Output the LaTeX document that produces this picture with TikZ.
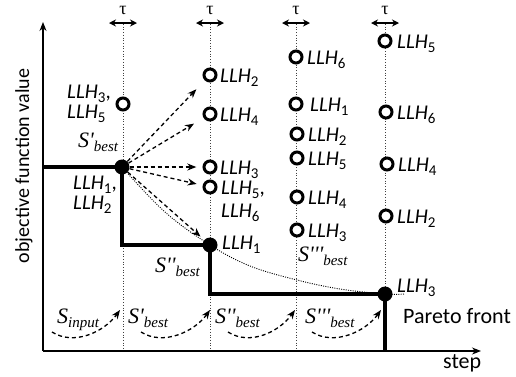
\documentclass[tikz,border=0pt]{standalone}
\usepackage{fontspec}
\setmainfont{Liberation Serif}
\newfontfamily\calfont{Carlito}
\usetikzlibrary{arrows.meta,calc}
\newcommand\sub[1]{\raisebox{-0.22em}{\fontsize{15}{15}\selectfont #1}}
\newcommand\LLH[1]{{\itshape LLH}\sub{#1}}
\newcommand\Sl[2]{{\itshape S#1}\sub{\itshape #2}}
\newcommand\pr{\textquotesingle}
\begin{document}
\begin{tikzpicture}[x=1pt,y=-1pt,
  hollow/.style={circle,minimum size=15pt,inner sep=0pt},
  ring/.style={draw=black,fill=white,line width=3pt},
  bigdot/.style={circle,fill,minimum size=15pt,inner sep=0pt},
  llh/.style={font=\calfont\fontsize{21}{21}\selectfont,inner sep=0pt,anchor=base west},
  slab/.style={font=\rmfamily\fontsize{22}{22}\selectfont,inner sep=0pt,anchor=base west},
  guide/.style={line width=0.7pt,dotted,black!75},
  front/.style={line width=4pt},
  axis/.style={line width=1.2pt,-{Stealth[length=9pt,width=7pt]}},
  dasharrow/.style={dashed,dash pattern=on 4pt off 3pt,line width=1.3pt,-{Stealth[length=9pt,width=7pt]}},
  tauarrow/.style={line width=1.8pt,{Stealth[length=7pt,width=7pt]}-{Stealth[length=7pt,width=7pt]}},
]
\useasboundingbox (0,0) rectangle (516,376);

% guides and tau markers
\foreach \x/\n in {123/1,210/2,296/3,385/4}{
  \coordinate (t\n) at (\x,24);
  \coordinate (b\n) at (\x,351);
  \coordinate (tl\n) at (\x-14,23);
  \coordinate (tr\n) at (\x+14,23);
  \draw[guide] (t\n) -- (b\n);
  \draw[tauarrow] (tl\n) -- (tr\n);
  \node[font=\rmfamily\fontsize{18}{18}\selectfont] (tau\n) at (\x,10) {τ};
}

% axes
\coordinate (O) at (43,351);
\coordinate (ytop) at (43,22);
\coordinate (xend) at (481,351);
\draw[axis] (O) -- (ytop);
\draw[axis] (O) -- (xend);
\node[rotate=90,font=\calfont\fontsize{20}{20}\selectfont] (ylab) at (24,166) {objective function value};
\node[llh,font=\calfont\fontsize{22}{22}\selectfont] (step) at (443,368) {step};

% dotted curve
\draw[line width=0.9pt,dash pattern=on 1pt off 1.3pt] plot[smooth,tension=0.6] coordinates {(122,167) (165,212) (210,245) (250,266) (297,280) (340,289) (385,294) (404,294)};

% Pareto front
\coordinate (p0) at (43,167);
\coordinate (p1) at (122,245);
\coordinate (p2) at (210,294);
\coordinate (p3) at (385,351);
\coordinate (q1) at (122,167);
\coordinate (q2) at (210,245);
\coordinate (q3) at (385,294);
\draw[front] (p0) -- (q1) -- (p1) -- (q2) -- (p2) -- (q3) -- (p3);
\node[bigdot] (s1) at (q1) {};
\node[bigdot] (s2) at (q2) {};
\node[bigdot] (s3) at (q3) {};

% hollow circles (nodes) and their rings
\node[hollow] (c11) at (123,104) {};
\node[hollow] (c21) at (210,75) {};
\node[hollow] (c22) at (210,114) {};
\node[hollow] (c23) at (210,167) {};
\node[hollow] (c24) at (210,187) {};
\node[hollow] (c31) at (296,57) {};
\node[hollow] (c32) at (296,104) {};
\node[hollow] (c33) at (297,134) {};
\node[hollow] (c34) at (297,158) {};
\node[hollow] (c35) at (297,197) {};
\node[hollow] (c36) at (297,230) {};
\node[hollow] (c41) at (385,41) {};
\node[hollow] (c42) at (386,112) {};
\node[hollow] (c43) at (387,164) {};
\node[hollow] (c44) at (386,216) {};
\foreach \c in {c11,c21,c22,c23,c24,c31,c32,c33,c34,c35,c36,c41,c42,c43,c44}{
  \draw[ring] (\c.center) circle[radius=6pt];
}

% labels column 1
\node[llh] (l11a) at (67,98) {\LLH{3},};
\node[llh] (l11b) at (67,118) {\LLH{5}};
\node[llh] (l12a) at (73,189) {\LLH{1},};
\node[llh] (l12b) at (73,209) {\LLH{2}};

% column 2
\node[llh] (l21) at (220,82) {\LLH{2}};
\node[llh] (l22) at (220,121) {\LLH{4}};
\node[llh] (l23) at (220,174) {\LLH{3}};
\node[llh] (l24a) at (221,194) {\LLH{5},};
\node[llh] (l24b) at (221,217) {\LLH{6}};
\node[llh] (l25) at (222,249) {\LLH{1}};

% column 3
\node[llh] (l31) at (307,64) {\LLH{6}};
\node[llh] (l32) at (310,111) {\LLH{1}};
\node[llh] (l33) at (308,141) {\LLH{2}};
\node[llh] (l34) at (308,165) {\LLH{5}};
\node[llh] (l35) at (308,204) {\LLH{4}};
\node[llh] (l36) at (308,237) {\LLH{3}};

% column 4
\node[llh] (l41) at (397,48) {\LLH{5}};
\node[llh] (l42) at (397,119) {\LLH{6}};
\node[llh] (l43) at (398,171) {\LLH{4}};
\node[llh] (l44) at (397,223) {\LLH{2}};
\node[llh] (l45) at (397,292) {\LLH{3}};
\node[llh,font=\calfont\fontsize{22}{22}\selectfont] (pf) at (403,323) {Pareto front};

% S labels
\node[slab] (sb1) at (78,147) {\Sl{\pr}{best}};
\node[slab] (sb2) at (155,272) {\Sl{\pr\pr}{best}};
\node[slab] (sb3) at (298,261) {\Sl{\pr\pr\pr}{best}};
\node[slab] (si) at (57,323) {\Sl{}{input}};
\node[slab] (sx1) at (128,323) {\Sl{\pr}{best}};
\node[slab] (sx2) at (215,323) {\Sl{\pr\pr}{best}};
\node[slab] (sx3) at (305,323) {\Sl{\pr\pr\pr}{best}};

% dashed arrows from S'best
\draw[dasharrow,shorten >=12pt] (s1) -- (c21);
\draw[dasharrow,shorten >=11pt] (s1) -- (c22);
\draw[dasharrow,shorten >=6pt] (s1) -- (c23);
\draw[dasharrow,shorten >=6pt] (s1) -- (c24);
\draw[dasharrow,shorten >=5pt] (s1) -- (s2);

% curved step arrows
\coordinate (u1) at (52,332); \coordinate (v1) at (120,310);
\coordinate (u2) at (141,332); \coordinate (v2) at (210,310);
\coordinate (u3) at (228,332); \coordinate (v3) at (295,310);
\coordinate (u4) at (312,332); \coordinate (v4) at (381,310);
\foreach \i in {1,2,3,4}{
  \draw[dasharrow] (u\i) .. controls ($(u\i)+(22,14)$) and ($(v\i)+(-16,22)$) .. (v\i);
}
\end{tikzpicture}
\end{document}
